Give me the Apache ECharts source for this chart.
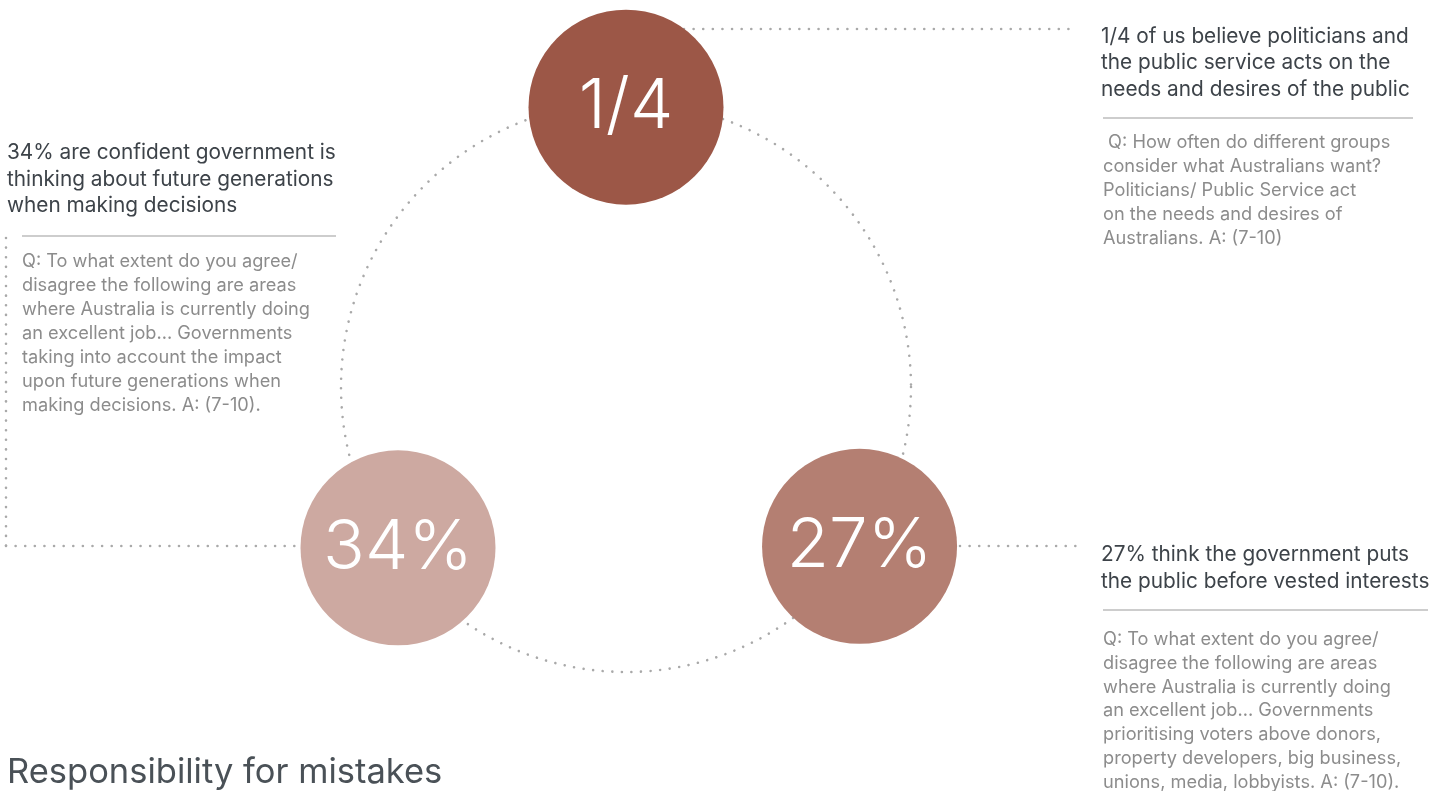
<!DOCTYPE html>
<html>
<head>
<meta charset="utf-8">
<script src="https://cdn.jsdelivr.net/npm/echarts@6/dist/echarts.min.js"></script>
<style>
  html, body { margin: 0; padding: 0; background: #fff; }
  #chart { width: 1449px; height: 791px; }
</style>
</head>
<body>
<div id="chart"></div>
<script>
// figures shown in the circles, and where they sit on the ring
const figures = ['1/4', '34%', '27%']
const ringAngles = [90, 215.2, 325.7]
const ringRadii = [0.982, 0.979, 0.992]
const circleColors = ['#9c5747', '#cda9a1', '#b47f72']

const titles = [
  ['1/4 of us believe politicians and', 'the public service acts on the', 'needs and desires of the public'],
  ['34% are confident government is', 'thinking about future generations', 'when making decisions'],
  ['27% think the government puts', 'the public before vested interests'],
]
const questions = [
  [' Q: How often do different groups', 'consider what Australians want?', 'Politicians/ Public Service act', 'on the needs and desires of', 'Australians. A: (7-10)'],
  ['Q: To what extent do you agree/', 'disagree the following are areas', 'where Australia is currently doing', 'an excellent job... Governments', 'taking into account the impact', 'upon future generations when', 'making decisions. A: (7-10).'],
  ['Q: To what extent do you agree/', 'disagree the following are areas', 'where Australia is currently doing', 'an excellent job... Governments', 'prioritising voters above donors,', 'property developers, big business,', 'unions, media, lobbyists. A: (7-10).'],
]
const heading = 'Responsibility for mistakes'

const chart = echarts.init(document.getElementById('chart'))

const dotColor = '#a9a9a9'
const titleColor = '#3d4349'
const bodyColor = '#8c8c8c'
const font = 'Inter, "Noto Sans", sans-serif'

const dotted = (x1, y1, x2, y2) => ({
  type: 'line',
  shape: { x1, y1, x2, y2 },
  z: 1,
  style: { stroke: dotColor, lineWidth: 2.6, lineDash: [0.01, 9.6], lineCap: 'round' },
})
const rule = (x1, x2, y) => ({
  type: 'line',
  shape: { x1, y1: y, x2, y2: y },
  style: { stroke: '#bdbdbd', lineWidth: 1.5 },
})
const block = (lines, x, y, size, lh, color) => ({
  type: 'text',
  x,
  y,
  style: {
    text: lines.join('\n'),
    fontFamily: font,
    fontSize: size,
    lineHeight: lh,
    fill: color,
    verticalAlign: 'top',
  },
})

const option = {
  animation: false,
  polar: { center: [626, 387], radius: 285 },
  angleAxis: {
    type: 'value',
    min: 0,
    max: 360,
    startAngle: 0,
    clockwise: false,
    axisLine: {
      show: true,
      lineStyle: { color: dotColor, width: 2.6, type: [0.01, 9.6], cap: 'round' },
    },
    axisTick: { show: false },
    axisLabel: { show: false },
    splitLine: { show: false },
  },
  radiusAxis: {
    min: 0,
    max: 1,
    axisLine: { show: false },
    axisTick: { show: false },
    axisLabel: { show: false },
    splitLine: { show: false },
  },
  series: [
    {
      type: 'scatter',
      coordinateSystem: 'polar',
      symbolSize: 195,
      z: 5,
      data: figures.map((f, i) => ({
        name: f,
        value: [ringRadii[i], ringAngles[i]],
        itemStyle: { color: circleColors[i], opacity: 1 },
      })),
      label: {
        show: true,
        position: 'inside',
        formatter: '{b}',
        color: '#fff',
        fontFamily: font,
        fontWeight: 300,
        fontSize: 69,
      },
      emphasis: { disabled: true },
    },
  ],
  graphic: {
    elements: [
      dotted(684, 29, 1074, 29),
      dotted(6, 546, 300, 546),
      dotted(6, 238, 6, 546),
      dotted(960, 546, 1078, 546),
      block(titles[0], 1101, 23.5, 20.8, 26.3, titleColor),
      rule(1103, 1413, 118),
      block(questions[0], 1103, 131, 18.2, 23.8, bodyColor),
      block(titles[1], 7, 140, 20.8, 26.3, titleColor),
      rule(22, 336, 236),
      block(questions[1], 22, 250, 18.2, 23.9, bodyColor),
      block(titles[2], 1101, 542, 20.8, 26.3, titleColor),
      rule(1103, 1428, 610),
      block(questions[2], 1103, 628, 18.2, 23.7, bodyColor),
      block([heading], 7, 753, 34.5, 40, '#4a5157'),
    ],
  },
}

chart.setOption(option)
</script>
</body>
</html>
